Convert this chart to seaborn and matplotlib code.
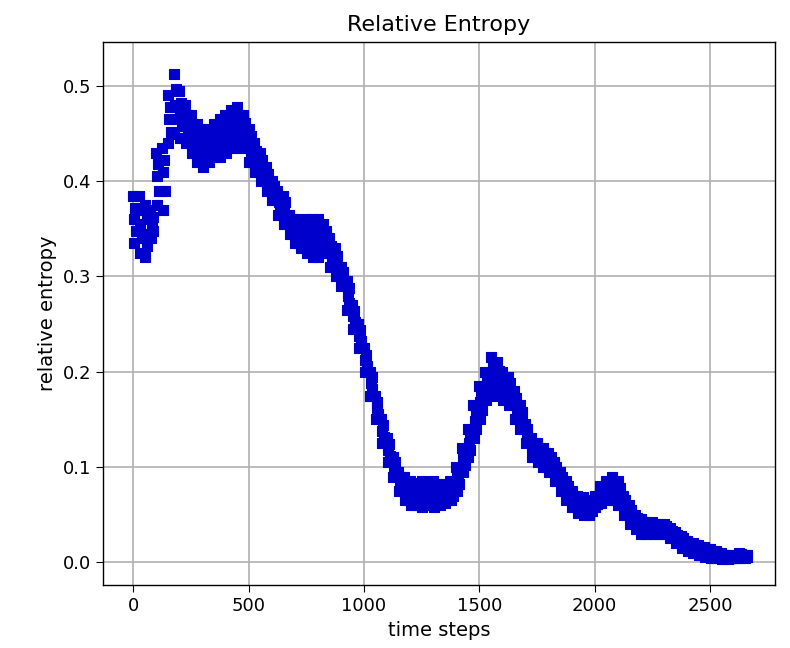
import numpy as np
import pandas as pd
import matplotlib
matplotlib.use('Agg')
import matplotlib.pyplot as plt
import seaborn as sns

# ==============================================================================
# Data: five readings across the point cloud
# (upper edge, upper core, centre, lower core, lower edge), every 25 steps
# ==============================================================================
time_steps = list(range(0, 2651, 25))

entropy_hi = [0.385, 0.385, 0.375, 0.370, 0.430, 0.435, 0.490, 0.513, 0.495, 0.480,
              0.470, 0.460, 0.455, 0.455, 0.460, 0.465, 0.470, 0.475, 0.478, 0.470,
              0.455, 0.440, 0.430, 0.415, 0.400, 0.390, 0.385, 0.365, 0.360, 0.355,
              0.360, 0.360, 0.360, 0.355, 0.340, 0.330, 0.310, 0.295, 0.270, 0.250,
              0.225, 0.200, 0.175, 0.150, 0.130, 0.110, 0.095, 0.090, 0.085, 0.083,
              0.085, 0.082, 0.085, 0.082, 0.080, 0.085, 0.100, 0.120, 0.140, 0.165,
              0.185, 0.200, 0.215, 0.210, 0.200, 0.195, 0.180, 0.165, 0.145, 0.130,
              0.125, 0.120, 0.115, 0.105, 0.095, 0.085, 0.075, 0.070, 0.068, 0.065,
              0.070, 0.080, 0.085, 0.090, 0.085, 0.070, 0.060, 0.050, 0.045, 0.042,
              0.042, 0.040, 0.040, 0.036, 0.032, 0.028, 0.022, 0.020, 0.018, 0.016,
              0.014, 0.012, 0.010, 0.008, 0.008, 0.010, 0.008]

entropy_qhi = [0.372, 0.370, 0.360, 0.362, 0.418, 0.422, 0.478, 0.497, 0.482, 0.470,
               0.460, 0.450, 0.445, 0.447, 0.451, 0.455, 0.460, 0.465, 0.469, 0.461,
               0.447, 0.432, 0.422, 0.408, 0.395, 0.384, 0.378, 0.360, 0.354, 0.348,
               0.351, 0.350, 0.350, 0.348, 0.332, 0.322, 0.305, 0.288, 0.264, 0.244,
               0.218, 0.194, 0.168, 0.144, 0.124, 0.105, 0.090, 0.084, 0.078, 0.077,
               0.078, 0.076, 0.078, 0.076, 0.075, 0.080, 0.094, 0.114, 0.132, 0.156,
               0.176, 0.192, 0.206, 0.201, 0.192, 0.188, 0.172, 0.158, 0.140, 0.125,
               0.120, 0.115, 0.110, 0.100, 0.090, 0.080, 0.070, 0.066, 0.064, 0.062,
               0.067, 0.076, 0.080, 0.084, 0.078, 0.065, 0.055, 0.046, 0.042, 0.039,
               0.039, 0.038, 0.038, 0.033, 0.029, 0.025, 0.020, 0.018, 0.016, 0.014,
               0.012, 0.010, 0.008, 0.007, 0.007, 0.009, 0.008]

entropy_mid = [0.360, 0.355, 0.345, 0.355, 0.405, 0.410, 0.465, 0.480, 0.470, 0.460,
               0.450, 0.440, 0.435, 0.438, 0.442, 0.445, 0.450, 0.455, 0.460, 0.452,
               0.438, 0.425, 0.415, 0.402, 0.390, 0.378, 0.370, 0.355, 0.348, 0.342,
               0.342, 0.340, 0.340, 0.340, 0.325, 0.315, 0.300, 0.280, 0.258, 0.238,
               0.212, 0.188, 0.162, 0.138, 0.118, 0.100, 0.085, 0.078, 0.072, 0.070,
               0.072, 0.070, 0.072, 0.070, 0.070, 0.075, 0.088, 0.108, 0.125, 0.148,
               0.168, 0.185, 0.198, 0.192, 0.185, 0.180, 0.165, 0.152, 0.135, 0.120,
               0.115, 0.110, 0.105, 0.095, 0.085, 0.075, 0.066, 0.061, 0.059, 0.058,
               0.064, 0.071, 0.075, 0.078, 0.072, 0.060, 0.050, 0.042, 0.038, 0.036,
               0.036, 0.035, 0.035, 0.030, 0.026, 0.022, 0.017, 0.015, 0.013, 0.011,
               0.010, 0.008, 0.006, 0.005, 0.006, 0.008, 0.007]

entropy_qlo = [0.348, 0.340, 0.332, 0.348, 0.390, 0.390, 0.452, 0.465, 0.458, 0.450,
               0.440, 0.430, 0.425, 0.429, 0.433, 0.435, 0.440, 0.445, 0.450, 0.443,
               0.429, 0.418, 0.408, 0.396, 0.385, 0.372, 0.362, 0.350, 0.342, 0.336,
               0.334, 0.330, 0.330, 0.332, 0.318, 0.308, 0.295, 0.272, 0.252, 0.232,
               0.206, 0.182, 0.156, 0.132, 0.112, 0.095, 0.080, 0.072, 0.066, 0.065,
               0.065, 0.065, 0.065, 0.065, 0.066, 0.070, 0.082, 0.102, 0.118, 0.140,
               0.160, 0.178, 0.190, 0.184, 0.178, 0.172, 0.158, 0.146, 0.130, 0.115,
               0.110, 0.105, 0.100, 0.090, 0.080, 0.070, 0.062, 0.056, 0.054, 0.054,
               0.061, 0.066, 0.070, 0.072, 0.066, 0.055, 0.045, 0.038, 0.034, 0.033,
               0.033, 0.032, 0.032, 0.028, 0.023, 0.018, 0.014, 0.012, 0.010, 0.008,
               0.007, 0.006, 0.004, 0.004, 0.005, 0.006, 0.006]

entropy_lo = [0.335, 0.325, 0.320, 0.340, 0.375, 0.370, 0.440, 0.450, 0.445, 0.440,
              0.430, 0.420, 0.415, 0.420, 0.425, 0.425, 0.430, 0.435, 0.440, 0.435,
              0.420, 0.410, 0.400, 0.390, 0.380, 0.365, 0.355, 0.345, 0.335, 0.330,
              0.325, 0.320, 0.320, 0.325, 0.310, 0.300, 0.290, 0.265, 0.245, 0.225,
              0.200, 0.175, 0.150, 0.125, 0.105, 0.090, 0.075, 0.065, 0.060, 0.060,
              0.058, 0.060, 0.058, 0.060, 0.062, 0.065, 0.075, 0.095, 0.110, 0.130,
              0.150, 0.170, 0.180, 0.175, 0.170, 0.165, 0.150, 0.140, 0.125, 0.110,
              0.105, 0.100, 0.095, 0.085, 0.075, 0.065, 0.058, 0.052, 0.050, 0.050,
              0.058, 0.062, 0.065, 0.065, 0.060, 0.050, 0.040, 0.035, 0.030, 0.030,
              0.030, 0.030, 0.030, 0.025, 0.020, 0.015, 0.012, 0.010, 0.008, 0.006,
              0.005, 0.004, 0.003, 0.003, 0.004, 0.005, 0.005]

# each reading sits a few steps apart so the cloud is not drawn in columns
readings = [(entropy_hi, 0), (entropy_qhi, 9), (entropy_mid, 5),
            (entropy_qlo, 12), (entropy_lo, 3)]

frames = []
for values, offset in readings:
    frames.append(pd.DataFrame({'time steps': [t + offset for t in time_steps],
                                'relative entropy': values}))
df = pd.concat(frames, ignore_index=True)

# ==============================================================================
# Plot
# ==============================================================================
plt.rcParams['font.family'] = 'DejaVu Sans'

fig = plt.figure(figsize=(7.9, 6.48), dpi=100)
ax = fig.add_axes([0.130, 0.097, 0.851, 0.838])

sns.scatterplot(data=df, x='time steps', y='relative entropy', ax=ax,
                color='#0000cd', marker='s', s=52, edgecolor='#0000cd',
                linewidth=0.8, zorder=3)

ax.grid(True, color='#b0b0b0', linewidth=1.2)
ax.set_axisbelow(True)
ax.set_xlim(-132, 2782)
ax.set_ylim(-0.024, 0.546)
ax.set_yticks([0.0, 0.1, 0.2, 0.3, 0.4, 0.5])
ax.set_xticks([0, 500, 1000, 1500, 2000, 2500])

ax.set_title('Relative Entropy', fontsize=16, pad=8)
ax.set_xlabel('time steps', fontsize=14)
ax.set_ylabel('relative entropy', fontsize=14)
ax.tick_params(axis='both', labelsize=13, length=5)

for spine in ax.spines.values():
    spine.set_edgecolor('black')
    spine.set_linewidth(1.0)

plt.savefig('out.png', dpi=100, facecolor='white')
plt.close(fig)
